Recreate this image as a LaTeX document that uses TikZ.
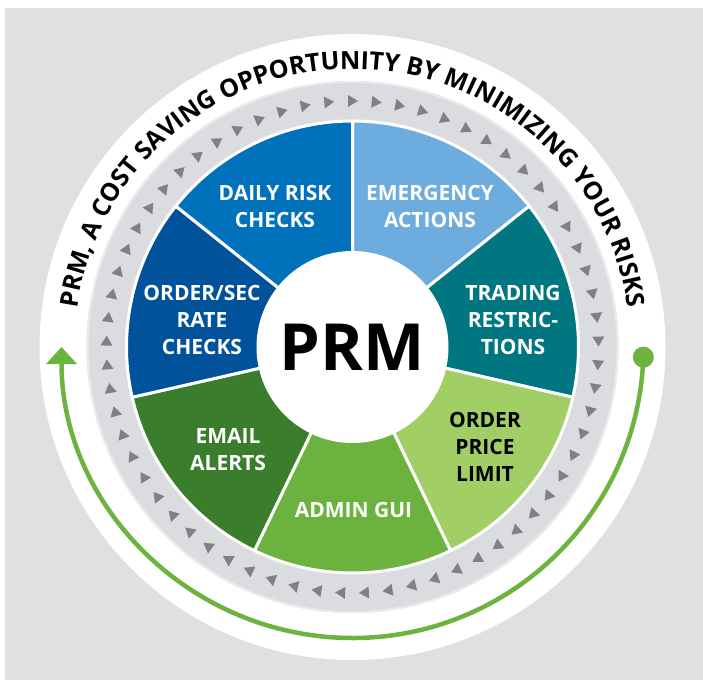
\documentclass[tikz,border=0pt]{standalone}
\usepackage{fontspec}
\setmainfont{Open Sans}
\usetikzlibrary{decorations.text,arrows.meta}

\definecolor{bggray}{RGB}{223,224,226}
\definecolor{bandgray}{RGB}{219,220,223}
\definecolor{bandedge}{RGB}{233,234,235}
\definecolor{trigray}{RGB}{128,128,133}
\definecolor{dailyblue}{RGB}{0,114,188}
\definecolor{emergblue}{RGB}{108,172,222}
\definecolor{tradeteal}{RGB}{0,118,128}
\definecolor{pricegreen}{RGB}{161,206,101}
\definecolor{admingreen}{RGB}{108,178,62}
\definecolor{emailgreen}{RGB}{58,125,44}
\definecolor{orderblue}{RGB}{0,82,155}
\definecolor{arcgreen}{RGB}{108,179,63}

\begin{document}
\begin{tikzpicture}[x=1pt, y=1pt,
    seglabel/.style={font=\bfseries\fontsize{21}{27}\selectfont, text=white, align=center}]
    \useasboundingbox (-352.5,-333) rectangle (350.5,347);

    % Bakgrunn
    \fill[bggray] (-347.5,-333) rectangle (350.5,339);

    % Ringer
    \fill[white] (0,0) circle (313);
    \fill[bandgray] (0,0) circle (266);
    \draw[bandedge, line width=2] (0,0) circle (265);

    % Piler i det grå båndet
    \foreach \k in {0,...,64} {
        \pgfmathsetmacro{\a}{90-\k*(360/65)}
        \fill[trigray, rotate=\a] (246,-5.5) -- (240,4.5) -- (252,4.5) -- cycle;
    }

    % Sektorer
    \foreach \col [count=\i from 0] in {emergblue,tradeteal,pricegreen,admingreen,emailgreen,orderblue,dailyblue} {
        \pgfmathsetmacro{\sa}{90-\i*(360/7)}
        \pgfmathsetmacro{\ea}{\sa-360/7}
        \filldraw[fill=\col, draw=white, line width=3, line join=round]
            (0,0) -- (\sa:226) arc[start angle=\sa, end angle=\ea, radius=226] -- cycle;
    }

    % Midten
    \node[circle, fill=white, minimum size=192, inner sep=0] (prm) at (0,0) {};
    \node[font=\bfseries\fontsize{65}{65}\selectfont] (prmtext) at (0,0) {PRM};

    % Tekst i sektorene
    \node[seglabel] (daily) at (-77.5,141) {DAILY RISK\\CHECKS};
    \node[seglabel] (emerg) at (77.5,141) {EMERGENCY\\ACTIONS};
    \node[seglabel] (trade) at (160.5,27) {TRADING\\RESTRIC-\\TIONS};
    \node[seglabel, text=black] (price) at (132.5,-100) {ORDER\\PRICE\\LIMIT};
    \node[seglabel] (admin) at (1,-163) {ADMIN GUI};
    \node[seglabel] (email) at (-124.5,-103) {EMAIL\\ALERTS};
    \node[seglabel] (order) at (-150.5,27) {ORDER/SEC\\RATE\\CHECKS};

    % Tekst langs ringen
    \path[decorate, decoration={text along path, text align=center,
        text={|\bfseries\fontsize{25}{25}\selectfont|PRM, A COST SAVING OPPORTUNITY BY MINIMIZING YOUR RISKS}}]
        (180:278) arc[start angle=180, end angle=0, radius=278];

    % Grønn pil
    \coordinate (arcstart) at (-2:291);
    \fill[arcgreen] (arcstart) circle (10.5);
    \draw[arcgreen, line width=4.5, -{Triangle[length=17,width=30]}]
        (arcstart) arc[start angle=-2, end angle=-180, radius=291];
\end{tikzpicture}
\end{document}
